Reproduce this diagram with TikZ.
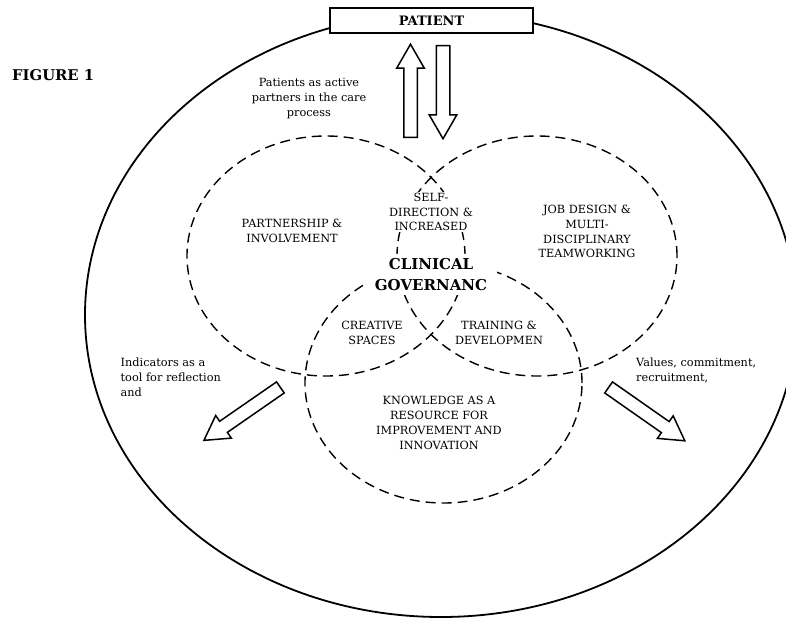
\documentclass[tikz,border=0pt]{standalone}
\usepackage{fontspec}
\setmainfont{DejaVu Serif}
\usetikzlibrary{shapes.geometric,shapes.arrows}
\definecolor{CgInk}{RGB}{0,0,0}
\tikzset{
  cg/ring/.style={ellipse, draw=CgInk, line width=1.8pt, inner sep=0pt},
  cg/venn/.style={ellipse, draw=CgInk, line width=1.4pt, dash pattern=on 10pt off 6pt, inner sep=0pt},
  cg/patient/.style={draw=CgInk, line width=1.8pt, fill=white, minimum width=203pt,
    minimum height=25pt, inner sep=0pt, font=\fontsize{13}{15}\selectfont\bfseries},
  cg/caps/.style={fill=white, align=center, text=CgInk, inner xsep=2pt, inner ysep=1pt,
    font=\fontsize{11.3}{14.8}\selectfont},
  cg/core/.style={fill=white, align=center, text=CgInk, inner xsep=10pt, inner ysep=4pt,
    font=\fontsize{15}{21}\selectfont\bfseries},
  cg/note/.style={anchor=west, align=left, text=CgInk, inner sep=0pt,
    font=\fontsize{11.3}{14.8}\selectfont},
  cg/hollow/.style={single arrow, draw=CgInk, line width=1.5pt, fill=white, inner sep=6pt,
    single arrow head extend=7pt, single arrow tip angle=60, minimum height=93pt, anchor=tail},
  cg/title/.style={anchor=west, inner sep=0pt, text=CgInk, font=\fontsize{14.8}{16}\selectfont\bfseries}
}
\begin{document}
\begin{tikzpicture}[x=1pt,y=-1pt]
  \useasboundingbox (0,0) rectangle (786,618);
  % outer ring and the three fields
  \node[cg/ring, minimum width=712pt, minimum height=604pt] (outer) at (441,315) {};
  \node[cg/venn, minimum width=278pt, minimum height=240pt] (partner) at (326,256) {};
  \node[cg/venn, minimum width=280pt, minimum height=240pt] (team) at (537,256) {};
  \node[cg/venn, minimum width=277pt, minimum height=240pt] (know) at (443.5,383) {};
  \node[cg/patient] (patient) at (431.5,20.5) {PATIENT};
  \node[cg/title] (figure) at (12,75) {FIGURE 1};
  % hollow arrows
  \node[cg/hollow, rotate=90] (toPatient) at (410.5,138) {};
  \node[cg/hollow, rotate=-90] (fromPatient) at (443,45) {};
  \node[cg/hollow, rotate=214.7] (toIndicators) at (281,387) {};
  \node[cg/hollow, rotate=-35] (toValues) at (608,387) {};
  % labels
  \node[cg/caps] (active) at (309,98.5) {Patients as active\\partners in the care\\process};
  \node[cg/caps] (self) at (431,212) {SELF-\\DIRECTION \&\\INCREASED};
  \node[cg/caps] (partnerText) at (292,230.5) {PARTNERSHIP \&\\INVOLVEMENT};
  \node[cg/caps] (teamText) at (587,231.5) {JOB DESIGN \&\\MULTI-\\DISCIPLINARY\\TEAMWORKING};
  \node[cg/core] (core) at (431,274.5) {CLINICAL\\GOVERNANC};
  \node[cg/caps] (creative) at (372,332.5) {CREATIVE\\SPACES};
  \node[cg/caps] (training) at (499,332.5) {TRAINING \&\\DEVELOPMEN};
  \node[cg/caps] (knowText) at (439,423) {KNOWLEDGE AS A\\RESOURCE FOR\\IMPROVEMENT AND\\INNOVATION};
  \node[cg/note] (indicators) at (120.5,377.5) {Indicators as a\\tool for reflection\\and};
  \node[cg/note] (values) at (636,370.5) {Values, commitment,\\recruitment,};
\end{tikzpicture}
\end{document}
